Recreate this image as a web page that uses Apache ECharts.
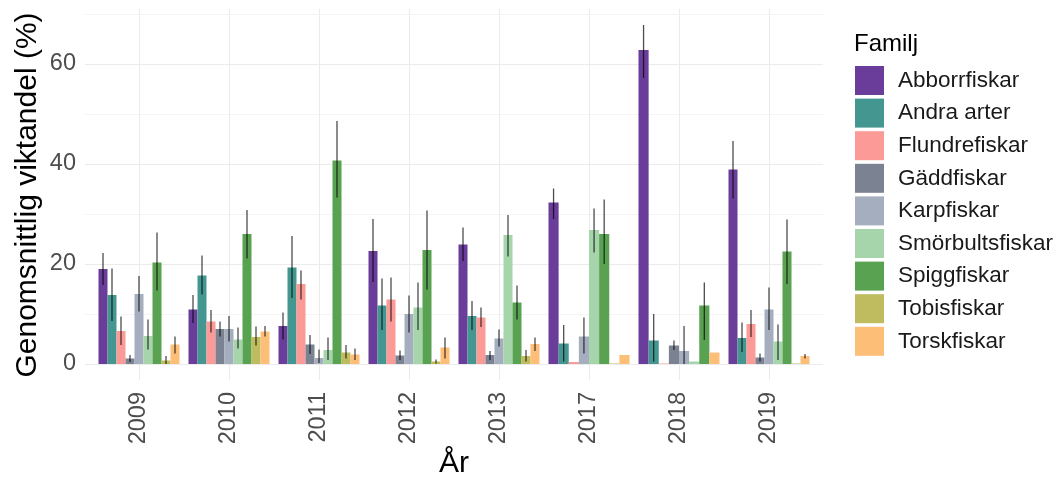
<!DOCTYPE html>
<html>
<head>
<meta charset="utf-8">
<script src="https://cdn.jsdelivr.net/npm/echarts@6/dist/echarts.min.js"></script>
<style>
  html, body { margin: 0; padding: 0; background: #ffffff; }
  #chart { width: 1055px; height: 477px; }
</style>
</head>
<body>
<div id="chart"></div>
<script>
// Categories (years)
const years = ['2009', '2010', '2011', '2012', '2013', '2017', '2018', '2019'];
// Family names (legend order)
const families = ['Abborrfiskar', 'Andra arter', 'Flundrefiskar', 'Gäddfiskar', 'Karpfiskar',
                  'Smörbultsfiskar', 'Spiggfiskar', 'Tobisfiskar', 'Torskfiskar'];
// Y tick labels
const yTicks = [0, 20, 40, 60];

// Values per family and year: [mean, lower, upper] (null = family absent that year)
const abborrfiskar = [[19.0, 15.8, 22.2], [10.9, 8.2, 13.8], [7.6, 4.9, 10.3], [22.6, 16.4, 29.0],
                      [23.9, 20.6, 27.3], [32.3, 29.0, 35.1], [62.8, 57.2, 67.8], [38.9, 33.1, 44.6]];
const andraArter = [[13.8, 8.6, 19.1], [17.7, 13.9, 21.7], [19.3, 13.2, 25.6], [11.7, 6.8, 17.1],
                    [9.6, 6.8, 12.6], [4.1, 0.5, 7.8], [4.7, 0.5, 10.0], [5.2, 2.4, 8.3]];
const flundrefiskar = [[6.6, 3.8, 9.5], [8.5, 6.3, 10.8], [16.0, 12.9, 18.7], [12.9, 8.5, 17.3],
                       [9.3, 7.4, 11.3], [0.4, 0.4, 0.4], [0.1, 0.1, 0.1], [8.0, 5.4, 10.8]];
const gaddfiskar = [[1.1, 0.4, 1.8], [7.0, 5.5, 8.5], [3.9, 2.0, 5.8], [1.7, 0.8, 2.7],
                    [1.8, 0.8, 2.6], null, [3.7, 2.8, 4.7], [1.3, 0.5, 2.1]];
const karpfiskar = [[14.0, 10.5, 17.6], [7.0, 4.5, 9.6], [1.2, 0.2, 2.9], [10.0, 6.3, 13.7],
                    [5.1, 3.5, 6.9], [5.5, 2.1, 9.3], [2.6, 0.0, 7.6], [10.9, 6.8, 15.3]];
const smorbultsfiskar = [[5.6, 2.9, 8.9], [4.9, 3.1, 7.3], [2.8, 0.8, 5.3], [11.3, 6.8, 16.3],
                         [25.8, 21.5, 29.8], [26.8, 22.3, 31.1], [0.5, 0.5, 0.5], [4.5, 0.8, 7.9]];
const spiggfiskar = [[20.3, 14.7, 26.3], [26.0, 21.1, 30.8], [40.7, 33.3, 48.6], [22.8, 14.9, 30.7],
                     [12.3, 8.9, 15.7], [26.0, 20.0, 32.9], [11.7, 4.8, 16.3], [22.5, 16.0, 28.9]];
const tobisfiskar = [[0.7, 0.0, 1.6], [5.4, 3.7, 7.5], [2.3, 1.1, 3.8], [0.5, 0.1, 0.9],
                     [1.6, 0.5, 2.8], [0.1, 0.1, 0.1], null, [0.1, 0.1, 0.1]];
const torskfiskar = [[3.9, 2.1, 5.5], [6.5, 5.5, 7.6], [1.9, 0.8, 3.1], [3.3, 1.1, 5.3],
                     [4.0, 2.6, 5.3], [1.8, 1.8, 1.8], [2.3, 2.3, 2.3], [1.6, 1.1, 2.0]];

const familyData = [abborrfiskar, andraArter, flundrefiskar, gaddfiskar, karpfiskar,
                    smorbultsfiskar, spiggfiskar, tobisfiskar, torskfiskar];
const colors = ['#6a3d9a', '#449791', '#fb9a96', '#7b8392', '#a4aebe',
                '#a6d4ab', '#58a251', '#bfbb5f', '#fdbe78'];

const FONT = '"Liberation Sans", Arial, sans-serif';
const chart = echarts.init(document.getElementById('chart'));

function makeRender(famIndex) {
  return function (params, api) {
    const yi = api.value(0);
    // families present this year (ggplot dodge: slots shared among present groups)
    const present = [];
    familyData.forEach((d, k) => { if (d[yi] != null) present.push(k); });
    const n = present.length;
    const slot = present.indexOf(famIndex);
    const band = api.size([1, 0])[0];
    const total = band * 0.9;
    const w = total / n;
    const base = api.coord([yi, 0]);
    const x0 = base[0] - total / 2 + slot * w;
    const top = api.coord([yi, api.value(1)])[1];
    const children = [{
      type: 'rect',
      shape: { x: x0, y: top, width: w, height: base[1] - top },
      style: { fill: colors[famIndex] }
    }];
    const lo = api.value(2), hi = api.value(3);
    if (hi > lo) {
      const pl = api.coord([yi, lo])[1];
      const ph = api.coord([yi, hi])[1];
      children.push({
        type: 'line',
        shape: { x1: x0 + w / 2, y1: pl, x2: x0 + w / 2, y2: ph },
        style: { stroke: 'rgba(0,0,0,0.7)', lineWidth: 1.3 },
        z2: 10
      });
    }
    return { type: 'group', children: children };
  };
}

const series = families.map((name, k) => ({
  type: 'custom',
  name: name,
  xAxisIndex: 1,
  yAxisIndex: 1,
  itemStyle: { color: colors[k] },
  renderItem: makeRender(k),
  encode: { x: 0, y: 1 },
  data: familyData[k].map((v, yi) => v == null ? null : [yi, v[0], v[1], v[2]]).filter(d => d != null),
  animation: false
}));

chart.setOption({
  animation: false,
  backgroundColor: '#ffffff',
  grid: [
    { left: 85, right: 232, top: 14, bottom: 113 },
    { left: 94, width: 720, top: 14, bottom: 113 }
  ],
  xAxis: [
    { type: 'value', gridIndex: 0, min: 0, max: 1, show: false },
    {
      type: 'category', gridIndex: 1, data: years,
      axisLine: { show: false },
      axisTick: { show: true, alignWithLabel: true, length: 16, lineStyle: { color: '#ebebeb', width: 1 } },
      axisLabel: { rotate: 90, margin: 28, fontSize: 23.5, color: '#4d4d4d', fontFamily: FONT },
      splitLine: { show: false }
    },
    {
      type: 'category', gridIndex: 1, data: years, position: 'bottom',
      axisLine: { show: false },
      axisTick: { show: true, inside: true, alignWithLabel: true, length: 355, lineStyle: { color: '#ebebeb', width: 1 } },
      axisLabel: { show: false },
      splitLine: { show: false }
    }
  ],
  yAxis: [
    {
      type: 'value', gridIndex: 0, min: 0, max: 70, interval: 10,
      axisLine: { show: false }, axisTick: { show: false },
      axisLabel: {
        margin: 9, fontSize: 23.5, color: '#4d4d4d', fontFamily: FONT,
        formatter: v => (yTicks.indexOf(v) >= 0 ? String(v) : '')
      },
      splitLine: { show: true, lineStyle: { color: ['#ebebeb', '#f4f4f4'], width: 1 } }
    },
    { type: 'value', gridIndex: 1, min: 0, max: 70, show: false }
  ],
  legend: {
    orient: 'vertical', left: 855, top: 66, padding: 0,
    itemWidth: 29, itemHeight: 29, itemGap: 3.6,
    icon: 'rect', selectedMode: false,
    textStyle: { fontSize: 22.5, color: '#1a1a1a', fontFamily: FONT, padding: [0, 0, 0, 9] },
    data: families
  },
  graphic: [
    {
      type: 'text', x: 28, y: 195, rotation: Math.PI / 2,
      style: { text: 'Genomsnittlig viktandel (%)', fontSize: 30, fill: '#000000', fontFamily: FONT,
               align: 'center', verticalAlign: 'middle' }
    },
    {
      type: 'text', x: 454, y: 464,
      style: { text: 'År', fontSize: 30, fill: '#000000', fontFamily: FONT,
               align: 'center', verticalAlign: 'middle' }
    },
    {
      type: 'text', x: 854, y: 44,
      style: { text: 'Familj', fontSize: 24, fill: '#000000', fontFamily: FONT,
               align: 'left', verticalAlign: 'middle' }
    }
  ],
  series: series
});
</script>
</body>
</html>
